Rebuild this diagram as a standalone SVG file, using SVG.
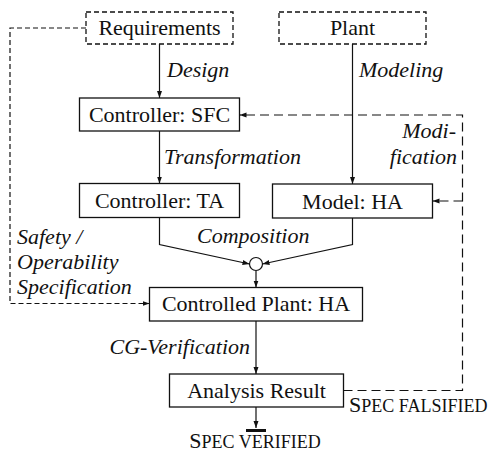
<svg xmlns="http://www.w3.org/2000/svg" width="495" height="453" viewBox="0 0 495 453">
<defs>
<marker id="ah" markerUnits="userSpaceOnUse" markerWidth="8" markerHeight="6" refX="7" refY="3" orient="auto">
<path d="M0,0.5 L7,3 L0,5.5 z" fill="#111"/>
</marker>
</defs>
<g id="connectors" fill="none" stroke="#111" stroke-width="1.2">
<path d="M159.5,44 V98" marker-end="url(#ah)"/>
<path d="M352.5,44 V184" marker-end="url(#ah)"/>
<path d="M159.5,131 V183.5" marker-end="url(#ah)"/>
<path d="M159.5,217.5 V244.5 L249.5,264" marker-end="url(#ah)"/>
<path d="M352.5,218 V244.5 L262.5,264" marker-end="url(#ah)"/>
<path d="M256,271 V287.5" marker-end="url(#ah)"/>
<path d="M256,321 V374" marker-end="url(#ah)"/>
<path d="M256,407 V428" marker-end="url(#ah)"/>
<path d="M246,430.5 H266" stroke-width="3"/>
<path d="M86,28 H10 V303.5 H149.5" stroke-dasharray="5 3" marker-end="url(#ah)"/>
<path d="M343.5,390.5 H462.5 V115 H239.5" stroke-dasharray="9 5" marker-end="url(#ah)"/>
<path d="M462.5,201 H432.5" stroke-dasharray="9 5" marker-end="url(#ah)"/>
</g>
<g id="labels" fill="#111" font-family="Times New Roman, Liberation Serif, serif" font-size="22" font-style="italic">
<text x="167" y="77">Design</text>
<text x="359" y="77">Modeling</text>
<text x="164" y="164">Transformation</text>
<text x="456" y="137.5" text-anchor="end">Modi-</text>
<text x="457" y="163.5" text-anchor="end">fication</text>
<text x="197" y="243">Composition</text>
<text x="17" y="243.5">Safety /</text>
<text x="17" y="268.5">Operability</text>
<text x="17" y="293.5">Specification</text>
<text x="250" y="353.5" text-anchor="end">CG-Verification</text>
<text x="349" y="411.5" font-style="normal">S<tspan font-size="18">PEC FALSIFIED</tspan></text>
<text x="255" y="448" text-anchor="middle" font-style="normal">S<tspan font-size="18">PEC VERIFIED</tspan></text>
</g>
<g id="nodes" fill="#111" font-family="Times New Roman, Liberation Serif, serif" font-size="22" text-anchor="middle">
<g id="requirements">
<rect x="86" y="12" width="147" height="32" fill="#fff" stroke="#111" stroke-width="1.3" stroke-dasharray="5 3"/>
<text x="159.5" y="35">Requirements</text>
</g>
<g id="plant">
<rect x="279" y="12" width="147" height="32" fill="#fff" stroke="#111" stroke-width="1.3" stroke-dasharray="5 3"/>
<text x="352.5" y="35">Plant</text>
</g>
<g id="controller-sfc">
<rect x="79.5" y="98" width="160" height="33" fill="#fff" stroke="#111" stroke-width="1.3"/>
<text x="159.5" y="122">Controller: SFC</text>
</g>
<g id="controller-ta">
<rect x="79.5" y="183.5" width="160" height="34" fill="#fff" stroke="#111" stroke-width="1.3"/>
<text x="159.5" y="208">Controller: TA</text>
</g>
<g id="model-ha">
<rect x="272.5" y="184" width="160" height="34" fill="#fff" stroke="#111" stroke-width="1.3"/>
<text x="352.5" y="208.5">Model: HA</text>
</g>
<g id="composition">
<circle cx="256" cy="264" r="6.5" fill="#fff" stroke="#111" stroke-width="1.2"/>
</g>
<g id="controlled-plant">
<rect x="149.5" y="287.5" width="213" height="33.5" fill="#fff" stroke="#111" stroke-width="1.3"/>
<text x="256" y="311">Controlled Plant: HA</text>
</g>
<g id="analysis-result">
<rect x="169.5" y="374" width="174" height="33" fill="#fff" stroke="#111" stroke-width="1.3"/>
<text x="256.5" y="397.5">Analysis Result</text>
</g>
</g>
</svg>
